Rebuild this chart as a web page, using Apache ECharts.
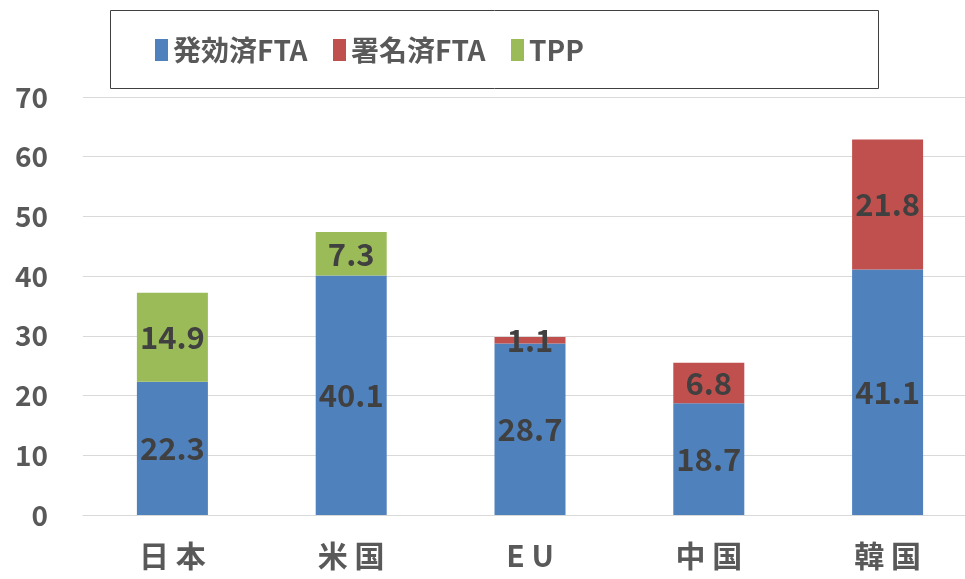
<!DOCTYPE html>
<html>
<head>
<meta charset="utf-8">
<script src="https://cdn.jsdelivr.net/npm/echarts@6/dist/echarts.min.js"></script>
<style>
  html, body { margin: 0; padding: 0; background: #fff; overflow: hidden; }
  #main { width: 980px; height: 579px; }
</style>
</head>
<body>
<div id="main"></div>
<script>
// データ
const categories = ['日本', '米国', 'EU', '中国', '韓国'];
const seriesNames = ['発効済FTA', '署名済FTA', 'TPP'];
const effectiveFta = [22.3, 40.1, 28.7, 18.7, 41.1];
const signedFta = [null, null, 1.1, 6.8, 21.8];
const tpp = [14.9, 7.3, null, null, null];
const yTicks = [0, 10, 20, 30, 40, 50, 60, 70];

const FONT = '"Noto Sans CJK JP", "Noto Sans", sans-serif';
const COLORS = ['#4F81BD', '#C0504D', '#9BBB59'];

const chart = echarts.init(document.getElementById('main'));

const labelStyle = {
    show: true,
    position: 'inside',
    color: '#404040',
    fontSize: 31,
    fontWeight: 'bold',
    fontFamily: FONT,
    formatter: p => (p.value == null ? '' : p.value.toFixed(1))
};

function makeSeries(name, data, color) {
    return {
        name: name,
        type: 'bar',
        stack: 'total',
        data: data,
        barWidth: 71,
        itemStyle: { color: color },
        label: labelStyle
    };
}

// 凡例は項目ごとに位置を固定
const legendLeft = [155, 333, 511];
const legends = seriesNames.map((name, i) => ({
    data: [name],
    left: legendLeft[i],
    top: 36,
    padding: 0,
    itemWidth: 13,
    itemHeight: 22,
    icon: 'rect',
    textStyle: {
        color: '#595959',
        fontSize: 28,
        fontWeight: 'bold',
        fontFamily: FONT
    }
}));

chart.setOption({
    animation: false,
    backgroundColor: '#fff',
    graphic: [{
        type: 'rect',
        shape: { x: 110.5, y: 10.5, width: 768, height: 78 },
        style: { fill: 'none', stroke: '#404040', lineWidth: 1 }
    }],
    legend: legends,
    grid: { left: 83, right: 3, top: 97, bottom: 64 },
    xAxis: {
        type: 'category',
        data: categories,
        axisLine: { lineStyle: { color: '#D9D9D9', width: 1 } },
        axisTick: { show: false },
        axisLabel: {
            color: '#595959',
            fontSize: 30,
            fontWeight: 'bold',
            fontFamily: FONT,
            margin: 26,
            formatter: v => v.split('').join(' ')
        }
    },
    yAxis: {
        type: 'value',
        min: yTicks[0],
        max: yTicks[yTicks.length - 1],
        interval: 10,
        axisLine: { show: false },
        axisTick: { show: false },
        splitLine: { lineStyle: { color: '#D9D9D9', width: 1 } },
        axisLabel: {
            color: '#595959',
            fontSize: 28,
            fontWeight: 'bold',
            fontFamily: FONT,
            margin: 35
        }
    },
    series: seriesNames.map((name, i) =>
        makeSeries(name, [effectiveFta, signedFta, tpp][i], COLORS[i]))
});
</script>
</body>
</html>
